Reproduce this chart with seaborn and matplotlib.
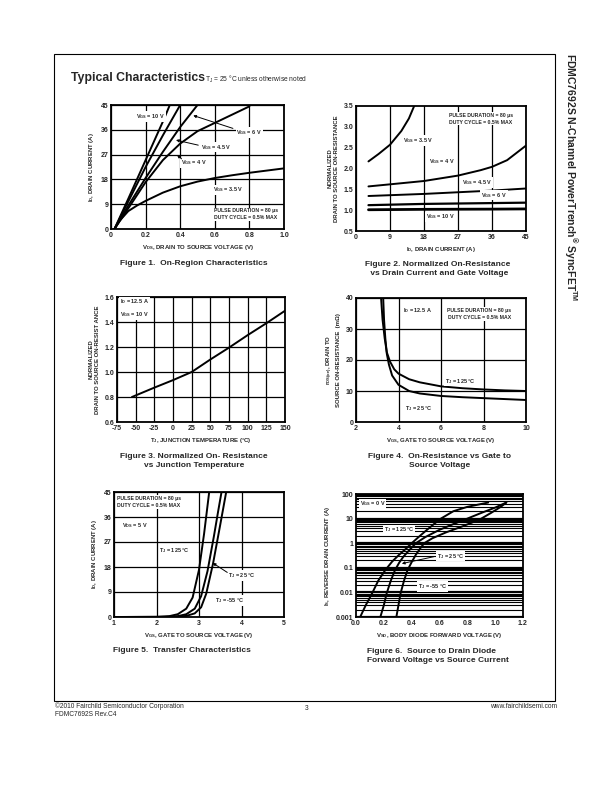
import matplotlib
matplotlib.use("Agg")
import matplotlib.pyplot as plt
import seaborn as sns

# ---- data ----

# Figure 1: on-region characteristics (VDS in V, ID in A)
f1_vds_10 = [0.02, 0.1, 0.2, 0.3, 0.34]
f1_id_10 = [0, 11, 25, 39, 45]
f1_vds_6 = [0.02, 0.1, 0.2, 0.3, 0.4]
f1_id_6 = [0, 10, 22.5, 34, 45]
f1_vds_45 = [0.02, 0.1, 0.2, 0.3, 0.4, 0.5]
f1_id_45 = [0, 8.5, 18.5, 28, 37, 45]
f1_vds_4 = [0.02, 0.1, 0.2, 0.3, 0.4, 0.5, 0.6, 0.7, 0.8]
f1_id_4 = [0, 7.5, 17, 25, 31, 35.5, 38.5, 41.5, 44.5]
f1_vds_35 = [0.02, 0.05, 0.1, 0.15, 0.2, 0.3, 0.4, 0.5, 0.6, 0.7, 0.8, 0.9, 1.0]
f1_id_35 = [0, 3, 6.5, 8.5, 10.2, 13.2, 15.5, 17.2, 18.5, 19.5, 20.4, 21.2, 22]

# Figure 2: normalized on-resistance vs drain current
f2_id_35 = [3.3, 6, 9, 12, 14, 15.4]
f2_r_35 = [2.17, 2.35, 2.57, 2.9, 3.2, 3.5]
f2_id_4 = [3.3, 9, 18, 27, 33, 36, 40, 45]
f2_r_4 = [1.57, 1.62, 1.70, 1.83, 1.96, 2.04, 2.2, 2.55]
f2_id_45 = [3.3, 18, 27, 36, 45]
f2_r_45 = [1.34, 1.39, 1.43, 1.47, 1.52]
f2_id_6 = [3.3, 18, 36, 45]
f2_r_6 = [1.12, 1.15, 1.17, 1.18]
f2_id_10 = [3.3, 18, 36, 45]
f2_r_10 = [1.01, 1.02, 1.025, 1.03]

# Figure 3: normalized on-resistance vs junction temperature
f3_tj = [-55, -25, 0, 25, 50, 75, 100, 125, 150]
f3_r = [0.80, 0.875, 0.935, 1.0, 1.1, 1.195, 1.295, 1.39, 1.49]

# Figure 4: on-resistance (mOhm) vs gate voltage
f4_vgs_125 = [3.18, 3.25, 3.35, 3.45, 3.6, 3.8, 4.0, 4.5, 5.0, 6.0, 7.0, 8.0, 9.0, 10.0]
f4_r_125 = [40, 33, 27, 22.5, 19.5, 17, 15.6, 13.8, 12.8, 11.5, 10.9, 10.5, 10.2, 10.0]
f4_vgs_25 = [3.28, 3.32, 3.38, 3.45, 3.55, 3.7, 4.0, 4.5, 5.0, 6.0, 7.0, 8.0, 9.0, 10.0]
f4_r_25 = [40, 33, 27, 22, 18.5, 15, 12, 10, 9.2, 8.4, 8.0, 7.7, 7.4, 7.1]

# Figure 5: transfer characteristics
f5_vgs_125 = [1.0, 2.0, 2.3, 2.5, 2.7, 2.85, 3.0, 3.12, 3.24]
f5_id_125 = [0, 0.05, 0.3, 1.0, 3.0, 7.0, 17, 30, 45]
f5_vgs_25 = [1.0, 2.2, 2.5, 2.7, 2.9, 3.05, 3.2, 3.35, 3.45, 3.53]
f5_id_25 = [0, 0.05, 0.3, 1.0, 3.0, 7.5, 16.5, 29, 38, 45]
f5_vgs_m55 = [1.0, 2.45, 2.7, 2.9, 3.05, 3.17, 3.33, 3.49, 3.64]
f5_id_m55 = [0, 0.05, 0.4, 1.3, 3.5, 8.4, 19.2, 32.4, 45]

# Figure 6: body diode forward voltage vs source current
f6_vsd_125 = [0.03, 0.07, 0.115, 0.16, 0.21, 0.26, 0.31, 0.36, 0.40, 0.46, 0.51, 0.56, 0.61, 0.70, 0.80, 0.95]
f6_is_125 = [0.001, 0.003, 0.009, 0.03, 0.08, 0.18, 0.34, 0.6, 1.0, 2.0, 3.5, 6, 10, 20, 30, 45]
f6_vsd_25 = [0.175, 0.20, 0.22, 0.25, 0.28, 0.31, 0.34, 0.38, 0.43, 0.5, 0.6, 0.7, 0.8, 0.9, 1.0, 1.08]
f6_is_25 = [0.001, 0.003, 0.009, 0.03, 0.08, 0.16, 0.28, 0.5, 1.0, 1.8, 3.5, 6, 10, 17, 28, 45]
f6_vsd_m55 = [0.29, 0.305, 0.32, 0.345, 0.37, 0.40, 0.43, 0.46, 0.49, 0.55, 0.65, 0.75, 0.85, 0.9, 0.97, 1.04, 1.08]
f6_is_m55 = [0.001, 0.003, 0.009, 0.03, 0.08, 0.17, 0.34, 0.6, 1.0, 1.6, 2.8, 4.5, 7.5, 10, 17, 30, 45]

# ---- style ----
sns.set_style("white")
plt.rcParams['font.family'] = ['Liberation Sans', 'DejaVu Sans']
plt.rcParams['mathtext.default'] = 'regular'

W, H = 612, 792
fig = plt.figure(figsize=(6.12, 7.92), dpi=100)


def box(l, r, t, b):
    return [l / W, 1 - b / H, (r - l) / W, (b - t) / H]


def setup(ax, xlim, ylim, xticks, yticks, xlabels=None, ylabels=None, gx=True, gy=True):
    ax.set_xlim(*xlim)
    ax.set_ylim(*ylim)
    ax.set_xticks(xticks, labels=xlabels if xlabels else [str(t) for t in xticks])
    ax.set_yticks(yticks, labels=ylabels if ylabels else [str(t) for t in yticks])
    ax.tick_params(length=0, labelsize=5, pad=2)
    for t in ax.get_xticklabels() + ax.get_yticklabels():
        t.set_fontweight('bold')
    if gx:
        ax.grid(True, axis='x', color='black', lw=0.9)
    if gy:
        ax.grid(True, axis='y', color='black', lw=0.9)
    ax.set_axisbelow(True)
    for s in ax.spines.values():
        s.set_linewidth(1.3)
        s.set_color('black')


def curve(ax, x, y, lw=1.4):
    sns.lineplot(x=x, y=y, ax=ax, color='black', lw=lw, sort=False, estimator=None)


def lab(ax, x, y, s, size=4.0, ha='center', **kw):
    ax.text(x, y, s, fontsize=size, fontweight='bold', ha=ha, va='center',
            bbox=dict(facecolor='white', edgecolor='none', pad=0.6), zorder=5, **kw)


def arrow(ax, xy, xytext):
    ax.annotate('', xy=xy, xytext=xytext,
                arrowprops=dict(arrowstyle='-|>', color='black', lw=0.7,
                                mutation_scale=4), zorder=6)


def xlab(ax, s):
    ax.set_xlabel(s, fontsize=4.3, fontweight='bold', labelpad=3)


def ylab(ax, s):
    ax.set_ylabel(s, fontsize=4.3, fontweight='bold', labelpad=3, linespacing=1.3)


pulse = 'PULSE DURATION = 80 µs\nDUTY CYCLE = 0.5% MAX'

# ---- Figure 1 ----
ax1 = fig.add_axes(box(111, 284, 105, 229))
setup(ax1, (0, 1.0), (0, 45), [0, 0.2, 0.4, 0.6, 0.8, 1.0], [0, 9, 18, 27, 36, 45],
      xlabels=['0', '0.2', '0.4', '0.6', '0.8', '1.0'])
for x, y in [(f1_vds_10, f1_id_10), (f1_vds_6, f1_id_6), (f1_vds_45, f1_id_45),
             (f1_vds_4, f1_id_4), (f1_vds_35, f1_id_35)]:
    curve(ax1, x, y)
lab(ax1, 0.23, 40.8, 'V$_{GS}$ = 10 V')
lab(ax1, 0.80, 35, 'V$_{GS}$ = 6 V')
arrow(ax1, (0.46, 41.5), (0.72, 36.2))
lab(ax1, 0.61, 29.7, 'V$_{GS}$ = 4.5 V')
arrow(ax1, (0.36, 32.5), (0.52, 30.2))
lab(ax1, 0.48, 24, 'V$_{GS}$ = 4 V')
arrow(ax1, (0.37, 27.5), (0.42, 24.8))
lab(ax1, 0.68, 14.2, 'V$_{GS}$ = 3.5 V')
lab(ax1, 0.78, 5.3, pulse, size=3.7, linespacing=1.5)
xlab(ax1, 'V$_{DS}$, DRAIN TO SOURCE VOLTAGE (V)')
ylab(ax1, 'I$_D$, DRAIN CURRENT (A)')

# ---- Figure 2 ----
ax2 = fig.add_axes(box(356, 526, 106, 231))
setup(ax2, (0, 45), (0.5, 3.5), [0, 9, 18, 27, 36, 45],
      [0.5, 1.0, 1.5, 2.0, 2.5, 3.0, 3.5], gy=False)
curve(ax2, f2_id_35, f2_r_35)
curve(ax2, f2_id_4, f2_r_4)
curve(ax2, f2_id_45, f2_r_45)
curve(ax2, f2_id_6, f2_r_6, lw=1.6)
curve(ax2, f2_id_10, f2_r_10, lw=2.0)
lab(ax2, 33, 3.2, pulse, size=3.7, linespacing=1.5)
lab(ax2, 16.6, 2.67, 'V$_{GS}$ = 3.5 V')
lab(ax2, 22.8, 2.16, 'V$_{GS}$ = 4 V')
lab(ax2, 32, 1.67, 'V$_{GS}$ = 4.5 V')
lab(ax2, 36.5, 1.36, 'V$_{GS}$ = 6 V')
lab(ax2, 22.3, 0.84, 'V$_{GS}$ = 10 V')
xlab(ax2, 'I$_D$, DRAIN CURRENT (A)')
ylab(ax2, 'NORMALIZED\nDRAIN TO SOURCE ON-RESISTANCE')

# ---- Figure 3 ----
ax3 = fig.add_axes(box(117, 285, 297, 422))
setup(ax3, (-75, 150), (0.6, 1.6), list(range(-75, 151, 25)),
      [0.6, 0.8, 1.0, 1.2, 1.4, 1.6])
curve(ax3, f3_tj, f3_r)
lab(ax3, -71, 1.51, 'I$_D$ = 12.5 A\nV$_{GS}$ = 10 V', ha='left', linespacing=1.6)
xlab(ax3, 'T$_J$, JUNCTION TEMPERATURE (°C)')
ylab(ax3, 'NORMALIZED\nDRAIN TO SOURCE ON-RESIST ANCE')

# ---- Figure 4 ----
ax4 = fig.add_axes(box(356, 526, 298, 422))
setup(ax4, (2, 10), (0, 40), [2, 4, 6, 8, 10], [0, 10, 20, 30, 40])
curve(ax4, f4_vgs_125, f4_r_125)
curve(ax4, f4_vgs_25, f4_r_25)
lab(ax4, 4.9, 35.8, 'I$_D$ = 12.5 A')
lab(ax4, 7.8, 34.8, pulse, size=3.7, linespacing=1.5)
lab(ax4, 6.9, 13.2, 'T$_J$ = 125 °C')
lab(ax4, 4.95, 4.2, 'T$_J$ = 25 °C')
xlab(ax4, 'V$_{GS}$, GATE TO SOURCE VOLTAGE (V)')
ylab(ax4, 'r$_{DS(on)}$, DRAIN TO\nSOURCE ON-RESISTANCE  (mΩ)')

# ---- Figure 5 ----
ax5 = fig.add_axes(box(114, 284, 492, 617))
setup(ax5, (1, 5), (0, 45), [1, 2, 3, 4, 5], [0, 9, 18, 27, 36, 45])
curve(ax5, f5_vgs_125, f5_id_125)
curve(ax5, f5_vgs_25, f5_id_25)
curve(ax5, f5_vgs_m55, f5_id_m55)
lab(ax5, 1.07, 41.3, pulse, size=3.7, ha='left', linespacing=1.5)
lab(ax5, 1.5, 33, 'V$_{DS}$ = 5 V')
lab(ax5, 2.43, 24, 'T$_J$ = 125 °C')
lab(ax5, 4.0, 15, 'T$_J$ = 25 °C')
arrow(ax5, (3.27, 20), (3.72, 15.5))
lab(ax5, 3.72, 6, 'T$_J$ = -55 °C')
xlab(ax5, 'V$_{GS}$, GATE TO SOURCE VOLTAGE (V)')
ylab(ax5, 'I$_D$, DRAIN CURRENT (A)')

# ---- Figure 6 ----
ax6 = fig.add_axes(box(356, 523, 494, 617))
ax6.set_yscale('log')
setup(ax6, (0, 1.2), (0.001, 100), [0, 0.2, 0.4, 0.6, 0.8, 1.0, 1.2],
      [0.001, 0.01, 0.1, 1, 10, 100],
      xlabels=['0.0', '0.2', '0.4', '0.6', '0.8', '1.0', '1.2'],
      ylabels=['0.001', '0.01', '0.1', '1', '10', '100'], gx=False, gy=False)
ax6.minorticks_on()
ax6.tick_params(which='minor', length=0)
ax6.grid(True, axis='y', which='major', color='black', lw=1.6)
ax6.grid(True, axis='y', which='minor', color='black', lw=0.8)
ax6.xaxis.set_minor_locator(matplotlib.ticker.NullLocator())
curve(ax6, f6_vsd_125, f6_is_125)
curve(ax6, f6_vsd_25, f6_is_25)
curve(ax6, f6_vsd_m55, f6_is_m55)
lab(ax6, 0.12, 40, 'V$_{GS}$ = 0 V')
lab(ax6, 0.31, 3.5, 'T$_J$ = 125 °C')
lab(ax6, 0.68, 0.3, 'T$_J$ = 25 °C')
arrow(ax6, (0.31, 0.14), (0.58, 0.3))
lab(ax6, 0.55, 0.017, 'T$_J$ = -55 °C')
xlab(ax6, 'V$_{SD}$, BODY DIODE FORWARD VOLTAGE (V)')
ylab(ax6, 'I$_S$, REVERSE DRAIN CURRENT (A)')

# ---- page decorations ----
fig.add_artist(plt.Rectangle((54 / W, 1 - 701 / H), (555 - 54) / W, (701 - 54) / H,
                             fill=False, lw=0.8, color='black', transform=fig.transFigure))
fig.text(71 / W, 1 - 78 / H, 'Typical Characteristics', fontsize=8.8, fontweight='bold',
         va='center')
fig.text(205 / W, 1 - 79 / H, 'T$_J$ = 25 °C unless otherwise noted', fontsize=4.8, va='center')

cap = dict(fontsize=6.0, fontweight='bold', va='center', linespacing=1.25)
fig.text(120 / W, 1 - 264 / H, 'Figure 1.  On-Region Characteristics', **cap)
fig.text(438 / W, 1 - 269 / H, 'Figure 2. Normalized On-Resistance\n vs Drain Current and Gate Voltage',
         ha='center', **cap)
fig.text(194 / W, 1 - 461 / H, 'Figure 3. Normalized On- Resistance\nvs Junction Temperature',
         ha='center', **cap)
fig.text(440 / W, 1 - 461 / H, 'Figure 4.  On-Resistance vs Gate to\nSource Voltage',
         ha='center', **cap)
fig.text(113 / W, 1 - 650 / H, 'Figure 5.  Transfer Characteristics', **cap)
fig.text(367 / W, 1 - 656 / H, 'Figure 6.  Source to Drain Diode\nForward Voltage vs Source Current',
         **cap)

fig.text(570 / W, 1 - 53 / H, 'FDMC7692S N-Channel PowerTrench$^{®}$ SyncFET$^{TM}$',
         fontsize=7.5, fontweight='bold', rotation=-90, ha='center', va='top')

foot = dict(fontsize=4.8, va='center')
fig.text(55 / W, 1 - 706 / H, '©2010 Fairchild Semiconductor Corporation', **foot)
fig.text(55 / W, 1 - 714 / H, 'FDMC7692S Rev.C4', **foot)
fig.text(307 / W, 1 - 708 / H, '3', ha='center', **foot)
fig.text(557 / W, 1 - 706 / H, 'www.fairchildsemi.com', ha='right', **foot)

fig.savefig('out.png', dpi=100)
